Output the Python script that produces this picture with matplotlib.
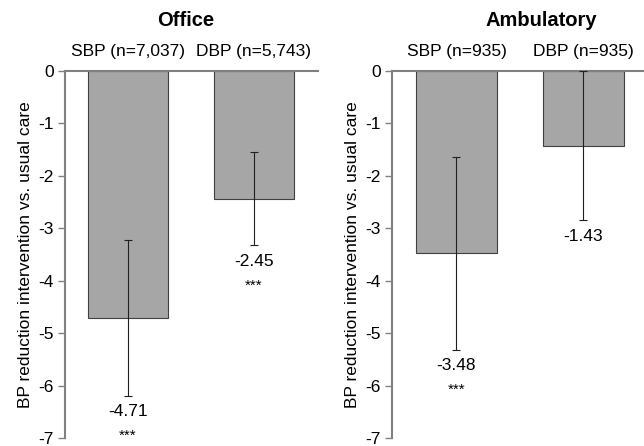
import matplotlib
matplotlib.use("Agg")
import matplotlib.pyplot as plt

plt.rcParams['font.family'] = ['Liberation Sans', 'DejaVu Sans']

panels = ["Office", "Ambulatory"]
categories = [["SBP (n=7,037)", "DBP (n=5,743)"], ["SBP (n=935)", "DBP (n=935)"]]
values = [[-4.71, -2.45], [-3.48, -1.43]]
ci_low = [[-6.19, -3.32], [-5.32, -2.85]]
ci_high = [[-3.23, -1.55], [-1.64, 0.0]]
stars = [["***", "***"], ["***", ""]]
yticks = [0, -1, -2, -3, -4, -5, -6, -7]

fig = plt.figure(figsize=(6.44, 4.46), dpi=100)
W, H = 644, 446
axes_px = [(65, 318), (392, 643)]
xlims = [(-0.5, 1.508), (-0.508, 1.47)]
title_px = [(186, 20), (541, 20)]
y_top, y_bot = 71, 438

for p in range(2):
    x0, x1 = axes_px[p]
    ax = fig.add_axes([x0 / W, 1 - y_bot / H, (x1 - x0) / W, (y_bot - y_top) / H])
    xs = [0, 1]
    ax.bar(xs, values[p], width=0.635, color="#a6a6a6", edgecolor="#404040", linewidth=0.8, zorder=2)
    for i in range(2):
        lo, hi = ci_low[p][i], ci_high[p][i]
        ax.errorbar(xs[i], values[p][i], yerr=[[values[p][i] - lo], [hi - values[p][i]]],
                    fmt="none", ecolor="#202020", elinewidth=0.8, capsize=3, capthick=0.8, zorder=3, clip_on=False)
        ax.annotate(f"{values[p][i]:.2f}", xy=(xs[i], lo), xytext=(0, -11.5), textcoords="offset points",
                    ha="center", va="center", fontsize=12.5, annotation_clip=False)
        if stars[p][i]:
            ax.annotate(stars[p][i], xy=(xs[i], lo), xytext=(0, -29), textcoords="offset points",
                        ha="center", va="center", fontsize=11, annotation_clip=False)
    ax.set_ylim(-7, 0)
    ax.set_xlim(*xlims[p])
    ax.set_yticks(yticks)
    ax.set_yticklabels([str(t) for t in yticks])
    ax.xaxis.tick_top()
    ax.set_xticks(xs)
    ax.set_xticklabels(categories[p], fontsize=12.5)
    ax.tick_params(axis="x", length=0, pad=8.5)
    ax.tick_params(axis="y", length=5, width=1, color="#808080", labelsize=12.5, pad=3, direction="out")
    for s in ["bottom", "right"]:
        ax.spines[s].set_visible(False)
    for s in ["left", "top"]:
        ax.spines[s].set_color("#808080")
        ax.spines[s].set_linewidth(1.5)
    ax.set_ylabel("BP reduction intervention vs. usual care", fontsize=12.5, labelpad=4)
    tx, ty = title_px[p]
    fig.text(tx / W, 1 - ty / H, panels[p], fontsize=14.5, fontweight="bold", ha="center", va="center")

fig.savefig("out.png", dpi=100)
